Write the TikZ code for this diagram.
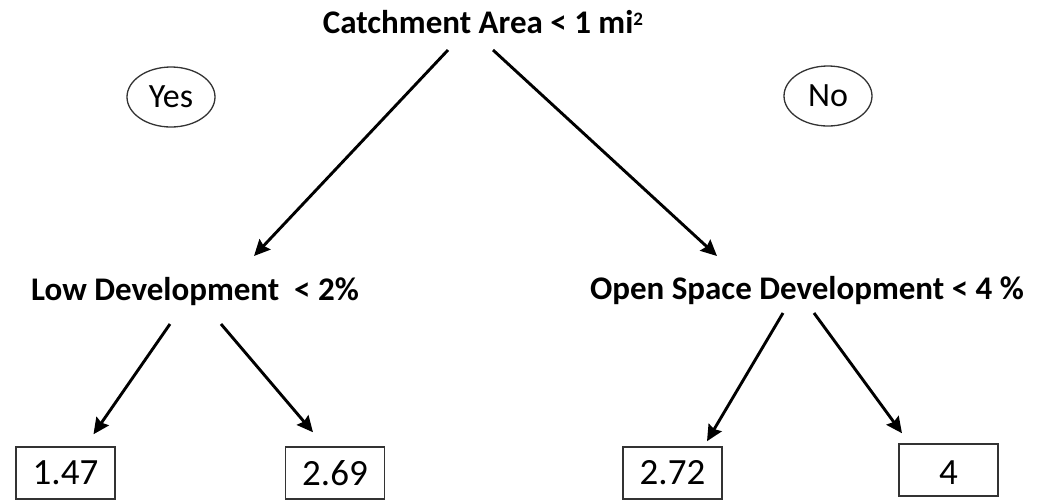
\documentclass[tikz,border=0pt]{standalone}
\usepackage{fontspec}
\setmainfont{Carlito}
\usetikzlibrary{arrows.meta,shapes.geometric}
\newcommand{\sqmi}{\raisebox{8pt}{\fontsize{19}{19}\selectfont 2}}
\tikzset{
  cond/.style={inner sep=0pt,anchor=base,font=\fontsize{33}{40}\selectfont\bfseries},
  answer/.style={draw=black!80,line width=1.3pt,ellipse,inner sep=0pt,
    minimum width=88pt,minimum height=60pt,font=\fontsize{34}{40}\selectfont},
  leaf/.style={draw=black!80,line width=1.5pt,rectangle,inner sep=0pt,
    minimum width=99pt,minimum height=52pt,font=\fontsize{37}{44}\selectfont},
  branch/.style={->,line width=2.9pt}
}
\begin{document}
\begin{tikzpicture}[x=1pt,y=-1pt,>={Stealth[length=16pt,width=15pt,inset=2pt]}]
\useasboundingbox (0,0) rectangle (1037,499);
\node[cond] (area) at (483,33) {Catchment Area < 1 mi\sqmi};
\node[answer] (yes) at (171,97) {Yes};
\node[answer] (no) at (828,96) {No};
\node[cond] (lowdev) at (195,300) {Low Development\ \ < 2\%};
\node[cond] (opensp) at (807,299) {Open Space Development < 4 \%};
\node[leaf] (v147) at (65.5,473) {1.47};
\node[leaf] (v269) at (335,473) {2.69};
\node[leaf] (v272) at (672.5,473) {2.72};
\node[leaf,text height=28pt] (v4) at (948.5,470) {4};
% first split
\draw[branch] ([shift={(-35,17)}]area.base) -- ([shift={(59,-44)}]lowdev.base);
\draw[branch] ([shift={(10,17)}]area.base) -- ([shift={(-90,-43)}]opensp.base);
% second split
\draw[branch] ([shift={(-25,24)}]lowdev.base) -- ([shift={(28,-12)}]v147.north);
\draw[branch] ([shift={(26,24)}]lowdev.base) -- ([shift={(-22,-14)}]v269.north);
\draw[branch] ([shift={(-24,14)}]opensp.base) -- ([shift={(34.5,-5)}]v272.north);
\draw[branch] ([shift={(7,14)}]opensp.base) -- ([shift={(-46.5,-10)}]v4.north);
\end{tikzpicture}
\end{document}
